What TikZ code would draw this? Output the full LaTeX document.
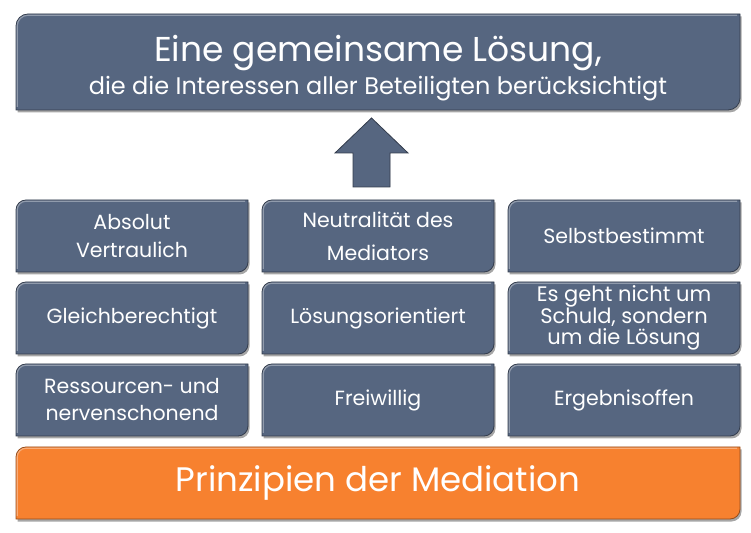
\documentclass[tikz,border=0pt]{standalone}
\usepackage{fontspec}
\setmainfont{Poppins}
\usetikzlibrary{calc}
\definecolor{boxblue}{RGB}{86,102,128}
\definecolor{boxorange}{RGB}{247,129,47}
\tikzset{x=1pt,y=1pt,
  boxtext/.style={text=white, align=center, inner sep=0pt, font=\fontsize{20.5}{28}\selectfont},
  plaintext/.style={text=white, inner sep=0pt, anchor=base},
  shadowfill/.style={black, opacity=.35},
}
\newcommand\bshape[5]{(#1,#2) -- (#1,#4-#5) arc[start angle=180,end angle=90,radius=#5] -- (#3,#4) -- (#3,#2+#5) arc[start angle=0,end angle=-90,radius=#5] -- cycle}
\newcommand\panel[9]{%
  \fill[shadowfill,shift={(1.5,-2.5)}] \bshape{#2}{#3}{#4}{#5}{#6};
  \fill[#7, draw=#7!60!black, line width=.8] \bshape{#2}{#3}{#4}{#5}{#6};
  \draw[white,opacity=.35,line width=1.2] (#2+1.2,#3+3) -- (#2+1.2,#5-#6) arc[start angle=180,end angle=90,radius=#6-1.2] -- (#4-3,#5-1.2);
  \node[boxtext,#9] (#1) at ({(#2+#4)/2},{(#3+#5)/2}) {#8};
}
\begin{document}
\begin{tikzpicture}
\useasboundingbox (0,0) rectangle (751,532);
% top box
\panel{goal}{16}{422}{740}{518}{12}{boxblue}{}{}
\node[plaintext, font=\fontsize{34.5}{36}\selectfont] (goaltitle) at (goal.center |- 0,470) {Eine gemeinsame Lösung,};
\node[plaintext, font=\fontsize{24}{28}\selectfont] (goalsub) at (goal.center |- 0,437) {die die Interessen aller Beteiligten berücksichtigt};
% grid row 1
\panel{a1}{16}{260}{248}{332}{10}{boxblue}{Absolut\\Vertraulich}{}
\panel{a2}{262}{260}{494}{332}{10}{boxblue}{Neutralität des\\Mediators}{font=\fontsize{20.5}{33}\selectfont}
\panel{a3}{508}{260}{740}{332}{10}{boxblue}{Selbstbestimmt}{}
% row 2
\panel{b1}{16}{178}{248}{250}{10}{boxblue}{Gleichberechtigt}{}
\panel{b2}{262}{178}{494}{250}{10}{boxblue}{Lösungsorientiert}{}
\panel{b3}{508}{178}{740}{250}{10}{boxblue}{Es geht nicht um\\Schuld, sondern\\um die Lösung}{font=\fontsize{21}{21.5}\selectfont}
% row 3
\panel{c1}{16}{96}{248}{168}{10}{boxblue}{Ressourcen- und\\nervenschonend}{font=\fontsize{20.5}{27}\selectfont}
\panel{c2}{262}{96}{494}{168}{10}{boxblue}{Freiwillig}{}
\panel{c3}{508}{96}{740}{168}{10}{boxblue}{Ergebnisoffen}{}
% base
\panel{base}{16}{13}{740}{85}{10}{boxorange}{Prinzipien der Mediation}{font=\fontsize{34}{36}\selectfont}
% arrow
\coordinate (ab) at ($(a2.center)+(-6.5,49)$);
\coordinate (at) at ($(ab)+(0,69)$);
\fill[shadowfill,shift={(1.5,-2.5)}] ($(ab)+(-18.5,0)$) -- ++(0,34) -- ++(-18,0) -- (at) -- ($(ab)+(36.5,34)$) -- ++(-18,0) -- ++(0,-34) -- cycle;
\fill[boxblue, draw=boxblue!60!black, line width=.8] ($(ab)+(-18.5,0)$) -- ++(0,34) -- ++(-18,0) -- (at) -- ($(ab)+(36.5,34)$) -- ++(-18,0) -- ++(0,-34) -- cycle;
\end{tikzpicture}
\end{document}
